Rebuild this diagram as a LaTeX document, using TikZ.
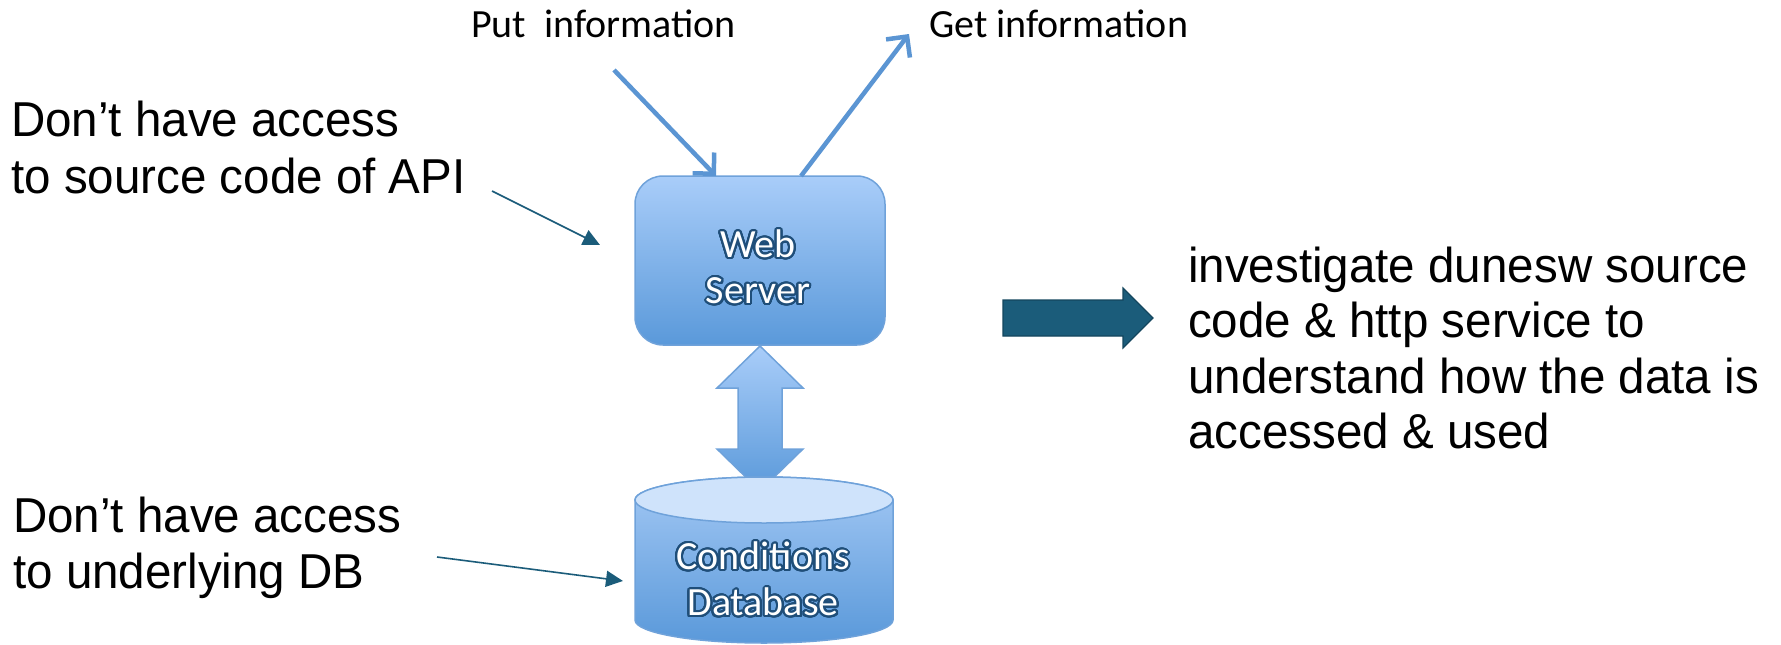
\documentclass[tikz,border=0pt]{standalone}
\usepackage{fontspec}
\setmainfont[FakeStretch=0.97]{Liberation Sans}
\newfontfamily\calfont{Carlito}
\usepackage[copies]{contour}
\contourlength{2pt}
\contournumber{32}
\usetikzlibrary{arrows.meta}
\definecolor{ptrcol}{HTML}{1B5C7A}
\definecolor{ptredge}{HTML}{14465E}
\definecolor{infoblue}{HTML}{5B95D3}
\definecolor{boxtop}{HTML}{A9CDF9}
\definecolor{boxbot}{HTML}{5A99DA}
\definecolor{boxedge}{HTML}{6FA2DA}
\definecolor{cyltop}{HTML}{CFE3FB}
\definecolor{cylmid}{HTML}{A3C8F4}
\definecolor{txtdark}{HTML}{1F4E79}
\tikzset{
  bigtxt/.style={anchor=base west, inner sep=0pt, font=\fontsize{49}{55}\selectfont},
  infotxt/.style={anchor=base west, inner sep=0pt, font=\calfont\fontsize{40}{46}\selectfont},
  shapetxt/.style={inner sep=0pt, align=center, text=white, font=\calfont\fontsize{40}{46}\selectfont},
  infoarrow/.style={draw=infoblue, line width=4.5pt, -{Straight Barb[length=15pt,width=30pt,line width=4.5pt]}},
  pointer/.style={draw=ptrcol, line width=1.6pt, -{Triangle[length=17pt,width=16pt]}},
  blueshape/.style={draw=boxedge, line width=1.5pt, top color=boxtop, bottom color=boxbot}
}
\begin{document}
\begin{tikzpicture}[x=1pt,y=-1pt]
\useasboundingbox (0,0) rectangle (1781,645);

% web server box
\node[blueshape, rounded corners=28pt, minimum width=250pt, minimum height=169pt, inner sep=0pt] (web) at (760,260.5) {};
\node[shapetxt] (webtxt) at (758,268) {\contour{txtdark}{Web}\\\contour{txtdark}{Server}};

% put / get information
\node[infotxt] (put) at (471,37) {Put~~information};
\node[infotxt] (get) at (929,37) {Get information};
\coordinate (putstart) at (614,70);
\coordinate (putend) at (716,176);
\coordinate (getstart) at (801,176);
\coordinate (getend) at (909,34);
\draw[infoarrow] (putstart) -- (putend);
\draw[infoarrow] (getstart) -- (getend);

% double arrow
\path[blueshape] (760,346) -- (803,388) -- (782,388) -- (782,449) -- (803,449) -- (760,491)
  -- (717,449) -- (738,449) -- (738,388) -- (717,388) -- cycle;

% database cylinder
\path[draw=boxedge, line width=1.5pt, top color=cylmid, bottom color=boxbot]
  (635,500) -- (635,620) arc[start angle=180, end angle=0, x radius=129, y radius=23]
  -- (893,500) arc[start angle=0, end angle=-180, x radius=129, y radius=23] -- cycle;
\draw[draw=boxedge, line width=1.5pt, fill=cyltop] (764,500) ellipse [x radius=129, y radius=23];
\node[inner sep=0pt, minimum width=258pt, minimum height=166pt] (db) at (764,560) {};
\node[shapetxt] (dbtxt) at (763,580) {\contour{txtdark}{Conditions}\\\contour{txtdark}{Database}};

% left notes
\node[bigtxt] (n1a) at (11,136) {Don’t have access};
\node[bigtxt] (n1b) at (11,193) {to source code of API};
\node[bigtxt] (n2a) at (13,532) {Don’t have access};
\node[bigtxt] (n2b) at (13,588) {to underlying DB};
\coordinate (p1s) at (492,191);
\coordinate (p1e) at (600,245);
\coordinate (p2s) at (437,557);
\coordinate (p2e) at (623,581);
\draw[pointer] (p1s) -- (p1e);
\draw[pointer] (p2s) -- (p2e);

% big teal arrow
\path[fill=ptrcol, draw=ptredge, line width=1.2pt] (1003,300) -- (1123,300) -- (1123,288) -- (1153,318)
  -- (1123,348) -- (1123,336) -- (1003,336) -- cycle;

% right text
\node[bigtxt] (r1) at (1188,282) {investigate dunesw source};
\node[bigtxt] (r2) at (1188,337) {code \& http service to};
\node[bigtxt] (r3) at (1188,393) {understand how the data is};
\node[bigtxt] (r4) at (1188,448) {accessed \& used};
\end{tikzpicture}
\end{document}
